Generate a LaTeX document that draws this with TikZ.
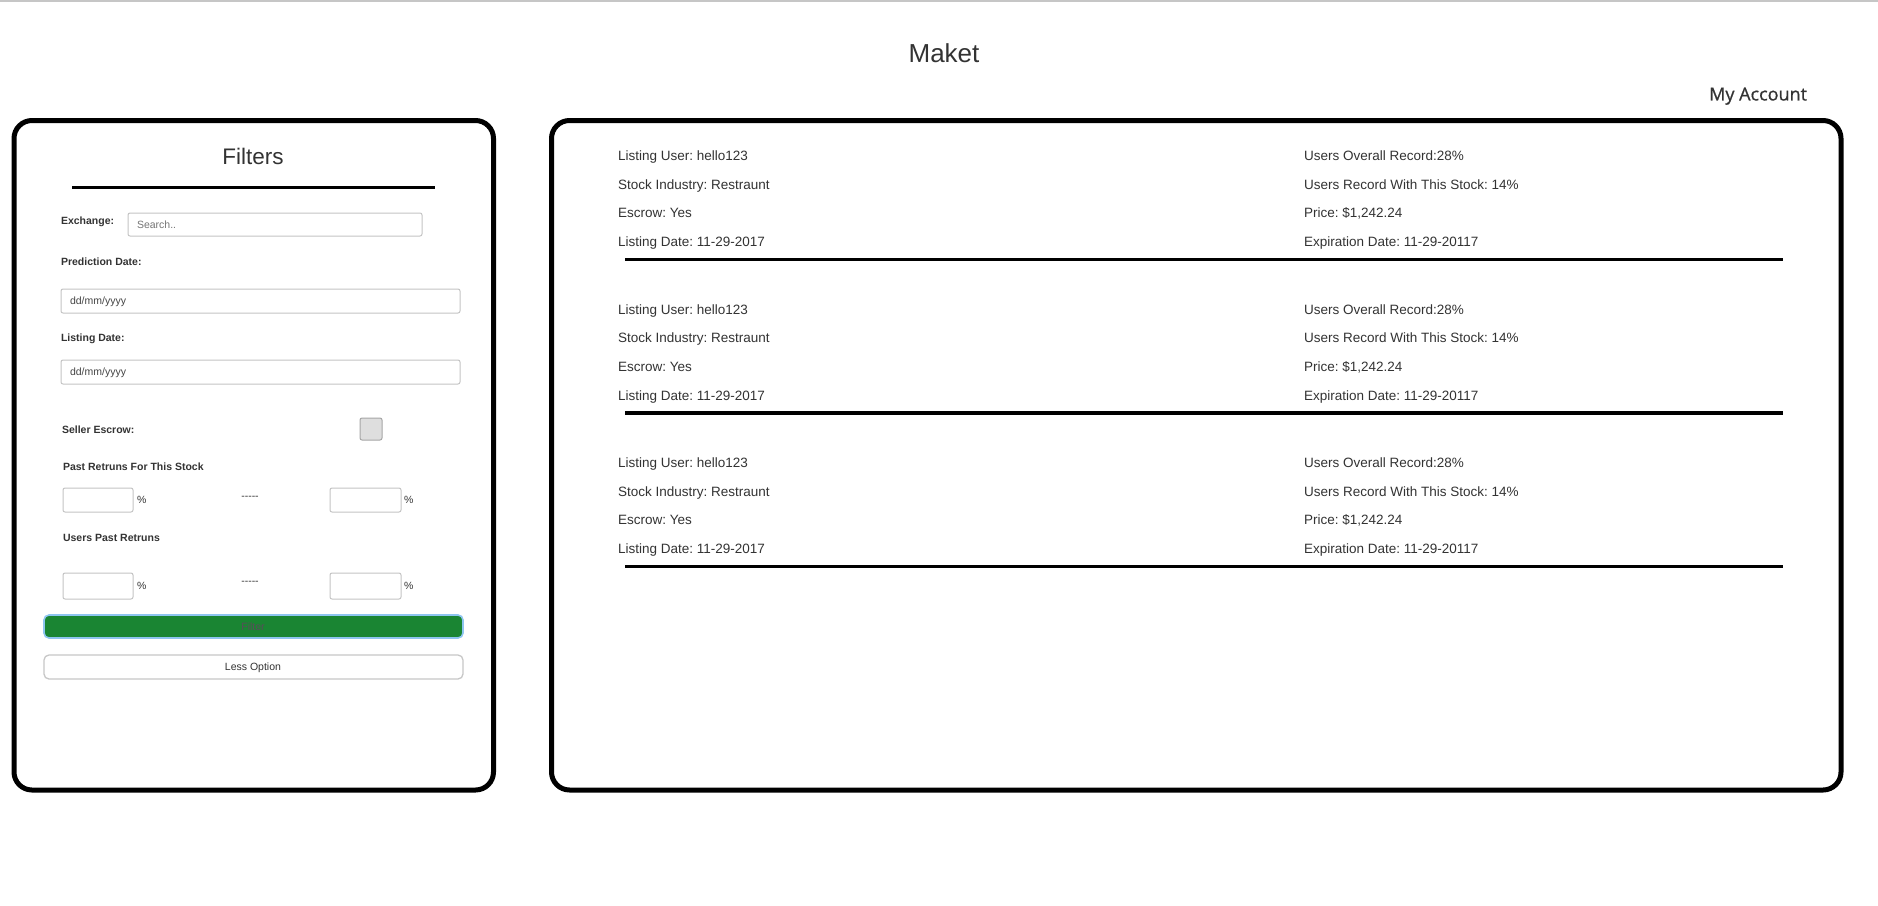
\documentclass[tikz,border=0pt]{standalone}
\usepackage{fontspec}
\setmainfont{Liberation Sans}
\newfontfamily\osans{Open Sans}[FakeBold=0.8]
\frenchspacing
\definecolor{txt}{HTML}{333333}
\definecolor{ph}{HTML}{757575}
\definecolor{dt}{HTML}{444444}
\definecolor{boxline}{HTML}{C4C4C4}
\definecolor{btngreen}{HTML}{1A8533}
\definecolor{glow}{HTML}{8EC5F0}
\definecolor{btntxt}{HTML}{5A4B5A}
\definecolor{topline}{HTML}{C6C6C6}
\tikzset{
  every node/.style={outer sep=0pt},
  panel/.style={draw=black, line width=5pt, rounded corners=18pt},
  lbl/.style={anchor=west, inner sep=0pt, text=txt, font=\fontsize{10.5}{12}\selectfont\bfseries, text height=7.6pt, text depth=0pt},
  small/.style={anchor=west, inner sep=0pt, text=txt, font=\fontsize{10.5}{12}\selectfont, text height=7.6pt, text depth=0pt},
  rtxt/.style={anchor=west, inner sep=0pt, text=txt, font=\fontsize{13.5}{16}\selectfont, text height=9.7pt, text depth=0pt},
  inbox/.style={draw=boxline, line width=1pt, rounded corners=2pt, anchor=north west, inner sep=0pt},
  sep/.style={draw=black, line width=3.8pt},
}
\begin{document}
\begin{tikzpicture}[x=1pt, y=-1pt]
\useasboundingbox (0,0) rectangle (1878,905);
\fill[white] (0,0) rectangle (1878,905);
% top line
\coordinate (tl0) at (0,1);
\coordinate (tl1) at (1878,1);
\draw[topline, line width=1.5pt] (tl0) -- (tl1);
% header
\node[inner sep=0pt, text=txt, font=\fontsize{26}{30}\selectfont, text height=18.7pt, text depth=0pt] (maket) at (944,53) {Maket};
\node[anchor=east, inner sep=0pt, text=txt, font=\osans\fontsize{18}{22}\selectfont, text height=12.9pt, text depth=0pt] (acct) at (1807,94) {My Account};
% left panel
\node[panel, anchor=north west, minimum width=479.5pt, minimum height=669.5pt, inner sep=0pt] (lpanel) at (14,120.5) {};
\node[inner sep=0pt, text=txt, font=\fontsize{22.5}{26}\selectfont, text height=16.1pt, text depth=0pt] (filters) at (253,156) {Filters};
\coordinate (ul0) at (72,187);
\coordinate (ul1) at (435,187);
\draw[black, line width=3pt] (ul0) -- (ul1);
\node[lbl] (exch) at (61,221) {Exchange:};
\node[inbox, minimum width=294pt, minimum height=23pt] (search) at (128,213) {};
\node[small, text=ph] (searchtxt) at (137,225) {Search..};
\node[lbl] (pred) at (61,262) {Prediction Date:};
\node[inbox, minimum width=399pt, minimum height=24pt] (date1) at (61,289) {};
\node[small, text=dt] (date1txt) at (70,301) {dd/mm/yyyy};
\node[lbl] (lst) at (61,338) {Listing Date:};
\node[inbox, minimum width=399pt, minimum height=24pt] (date2) at (61,360) {};
\node[small, text=dt] (date2txt) at (70,372) {dd/mm/yyyy};
\node[lbl] (escrow) at (62,430) {Seller Escrow:};
\node[draw=black!35, fill=black!13, line width=1pt, rounded corners=2pt, anchor=north west, inner sep=0pt, minimum width=22pt, minimum height=22pt] (chk) at (360,418) {};
\node[lbl] (past) at (63,467) {Past Retruns For This Stock};
\node[inbox, minimum width=70pt, minimum height=24pt] (p1) at (63,488) {};
\node[small] (p1pc) at (137,500) {\%};
\node[small, anchor=base] (p1d) at (250,499) {-{}-{}-{}-{}-};
\node[inbox, minimum width=71pt, minimum height=24pt] (p2) at (330,488) {};
\node[small] (p2pc) at (404,500) {\%};
\node[lbl] (users) at (63,538) {Users Past Retruns};
\node[inbox, minimum width=70pt, minimum height=26pt] (u1) at (63,573) {};
\node[small] (u1pc) at (137,586) {\%};
\node[small, anchor=base] (u1d) at (250,584) {-{}-{}-{}-{}-};
\node[inbox, minimum width=71pt, minimum height=26pt] (u2) at (330,573) {};
\node[small] (u2pc) at (404,586) {\%};
% buttons
\node[draw=glow, line width=1.6pt, fill=btngreen, rounded corners=5pt, anchor=north west, inner sep=0pt, minimum width=419pt, minimum height=23pt] (filterbtn) at (44,615) {};
\node[small, anchor=center, text=btntxt] (filtertxt) at (253,626.5) {Filter};
\node[draw=black!22, line width=1.3pt, fill=white, rounded corners=5pt, anchor=north west, inner sep=0pt, minimum width=419pt, minimum height=24pt] (lessbtn) at (44,655) {};
\node[small, anchor=center] (lesstxt) at (253,667) {Less Option};
% right panel
\node[panel, anchor=north west, minimum width=1289.5pt, minimum height=669.5pt, inner sep=0pt] (rpanel) at (551.5,120.5) {};
\foreach \g in {0,1,2} {
  \pgfmathsetmacro{\dy}{153.5*\g}
  \node[rtxt] (lu\g) at (618,{156+\dy}) {Listing User: hello123};
  \node[rtxt] (si\g) at (618,{184.5+\dy}) {Stock Industry: Restraunt};
  \node[rtxt] (es\g) at (618,{213+\dy}) {Escrow: Yes};
  \node[rtxt] (ld\g) at (618,{242+\dy}) {Listing Date: 11-29-2017};
  \node[rtxt] (uo\g) at (1304,{156+\dy}) {Users Overall Record:28\%};
  \node[rtxt] (ur\g) at (1304,{184.5+\dy}) {Users Record With This Stock: 14\%};
  \node[rtxt] (pr\g) at (1304,{213+\dy}) {Price: \$1,242.24};
  \node[rtxt] (ed\g) at (1304,{242+\dy}) {Expiration Date: 11-29-20117};
  \coordinate (sa\g) at (625,{259.5+\dy});
  \coordinate (sb\g) at (1783,{259.5+\dy});
  \draw[sep] (sa\g) -- (sb\g);
}
\end{tikzpicture}
\end{document}
